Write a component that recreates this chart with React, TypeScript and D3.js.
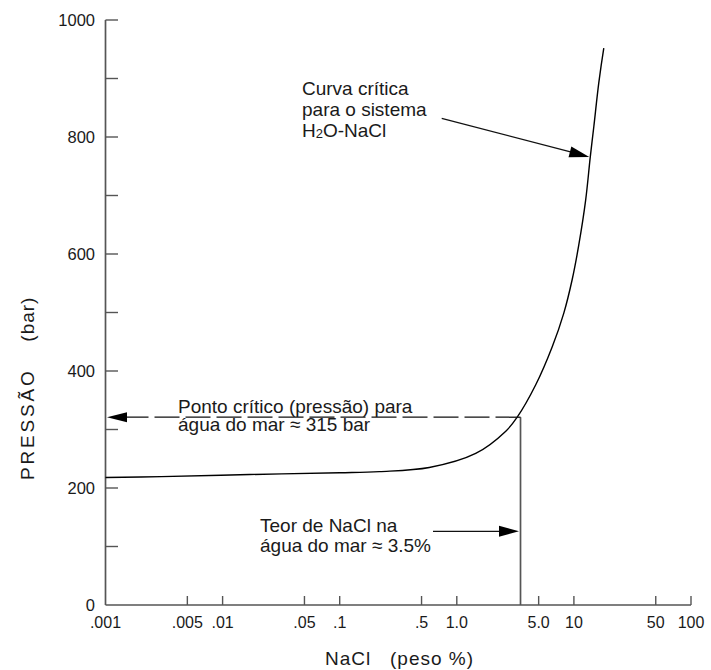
import React from "react";
import * as d3 from "d3";

// ---- data ----
const naclPct = [0.001, 0.003, 0.017, 0.1, 0.218, 0.582, 1.45, 2.62, 3.28, 4.71, 6.52, 8.2, 9.66, 11.0, 12.6, 13.8, 14.8, 16.3, 18.0];
const pressureBar = [218, 219.5, 223, 226, 228, 235, 259, 297, 321, 376, 441, 499, 556, 615, 692, 766, 818, 892, 952];

const xTickValues = [0.001, 0.005, 0.01, 0.05, 0.1, 0.5, 1, 5, 10, 50, 100];
const xTickLabels = [".001", ".005", ".01", ".05", ".1", ".5", "1.0", "5.0", "10", "50", "100"];
const yTickValues = [100, 200, 300, 400, 500, 600, 700, 800, 900, 1000];
const yLabelValues = [0, 200, 400, 600, 800, 1000];

const seawaterNaCl = 3.5;
const seawaterCritP = 321;

const FONT = "'Liberation Sans', Arial, Helvetica, sans-serif";
const AXIS = "#555";
const INK = "#1a1a1a";

function arrowHead(tx: number, ty: number, fx: number, fy: number, len = 20, half = 5) {
  const dx = tx - fx, dy = ty - fy;
  const L = Math.hypot(dx, dy);
  const ux = dx / L, uy = dy / L;
  const bx = tx - ux * len, by = ty - uy * len;
  const px = -uy, py = ux;
  return `M${tx},${ty}L${bx + px * half},${by + py * half}L${bx - px * half},${by - py * half}Z`;
}

export default function App() {
  const x = d3.scaleLog().domain([0.001, 100]).range([105.5, 691]);
  const y = d3.scaleLinear().domain([0, 1000]).range([605, 20]);

  const pts: [number, number][] = naclPct.map((v, i) => [x(v), y(pressureBar[i])]);
  const line = d3.line().curve(d3.curveCatmullRom.alpha(0.5))(pts) || "";

  const xs = x(seawaterNaCl);
  const yc = y(seawaterCritP);

  // annotation arrows
  const dashTipX = x(0.001) + 1.5;
  const teorY = y(126);
  const curvaTip: [number, number] = [x(13.8), y(766)];
  const curvaFrom: [number, number] = [441.7, 118.3];

  return (
    <svg width={711} height={670} style={{ position: "absolute", left: 0, top: 0, background: "#fff" }} fontFamily={FONT}>
      <rect width={711} height={670} fill="#fff" />
      {/* axes */}
      <line x1={x(0.001)} x2={x(0.001)} y1={y(1000)} y2={y(0)} stroke={AXIS} strokeWidth={1.7} />
      <line x1={x(0.001)} x2={x(100)} y1={y(0)} y2={y(0)} stroke={AXIS} strokeWidth={1.7} />
      {yTickValues.map((t) => (
        <line key={"yt" + t} x1={x(0.001)} x2={x(0.001) + 12.5} y1={y(t)} y2={y(t)} stroke={AXIS} strokeWidth={1.4} />
      ))}
      {yLabelValues.map((t) => (
        <text key={"yl" + t} x={95} y={y(t) + 6} textAnchor="end" fontSize={16.5} fill={INK}>{t}</text>
      ))}
      {xTickValues.slice(1).map((t) => (
        <line key={"xt" + t} x1={x(t)} x2={x(t)} y1={y(0)} y2={y(0) - 9} stroke={AXIS} strokeWidth={1.4} />
      ))}
      {xTickValues.map((t, i) => (
        <text key={"xl" + t} x={x(t)} y={628} textAnchor="middle" fontSize={16} fill={INK}>{xTickLabels[i]}</text>
      ))}

      {/* axis titles */}
      <text x={325} y={665} fontSize={19} letterSpacing={1} fill={INK}>NaCl</text>
      <text x={390} y={665} fontSize={19} letterSpacing={1} fill={INK}>(peso %)</text>
      <text transform="translate(34,480) rotate(-90)" fontSize={19} letterSpacing={2.8} fill={INK}>PRESSÃO</text>
      <text transform="translate(34,341.7) rotate(-90)" fontSize={19} letterSpacing={1} fill={INK}>(bar)</text>

      {/* critical curve */}
      <path d={line} fill="none" stroke="#000" strokeWidth={1.4} />

      {/* seawater NaCl vertical line */}
      <line x1={xs} x2={xs} y1={yc} y2={y(0)} stroke={AXIS} strokeWidth={1.7} />

      {/* dashed critical pressure line */}
      <line x1={xs} x2={dashTipX + 20} y1={yc} y2={yc} stroke="#111" strokeWidth={1.3} strokeDasharray="25 6" />
      <path d={arrowHead(dashTipX, yc, xs, yc, 20, 5)} fill="#000" />

      {/* Teor arrow */}
      <line x1={433} x2={xs - 15} y1={teorY} y2={teorY} stroke="#111" strokeWidth={1.3} />
      <path d={arrowHead(xs - 1.5, teorY, 433, teorY, 20, 5.5)} fill="#000" />

      {/* Curva arrow */}
      <line x1={curvaFrom[0]} y1={curvaFrom[1]} x2={curvaTip[0] - 15} y2={curvaTip[1] - 3.7} stroke="#111" strokeWidth={1.3} />
      <path d={arrowHead(curvaTip[0] - 1, curvaTip[1], curvaFrom[0], curvaFrom[1], 20, 5.5)} fill="#000" />

      {/* annotations */}
      <g fontSize={19} fill={INK}>
        <text x={302} y={95}>Curva crítica</text>
        <text x={302} y={115.5}>para o sistema</text>
        <text x={302} y={137}>H<tspan fontSize={13} dy={1}>2</tspan><tspan dy={-1}>O-NaCl</tspan></text>

        <text x={178} y={413}>Ponto crítico (pressão) para</text>
        <text x={178} y={431}>água do mar ≈ 315 bar</text>

        <text x={260} y={531.5}>Teor de NaCl na</text>
        <text x={260} y={551.5}>água do mar  ≈ 3.5%</text>
      </g>
    </svg>
  );
}
